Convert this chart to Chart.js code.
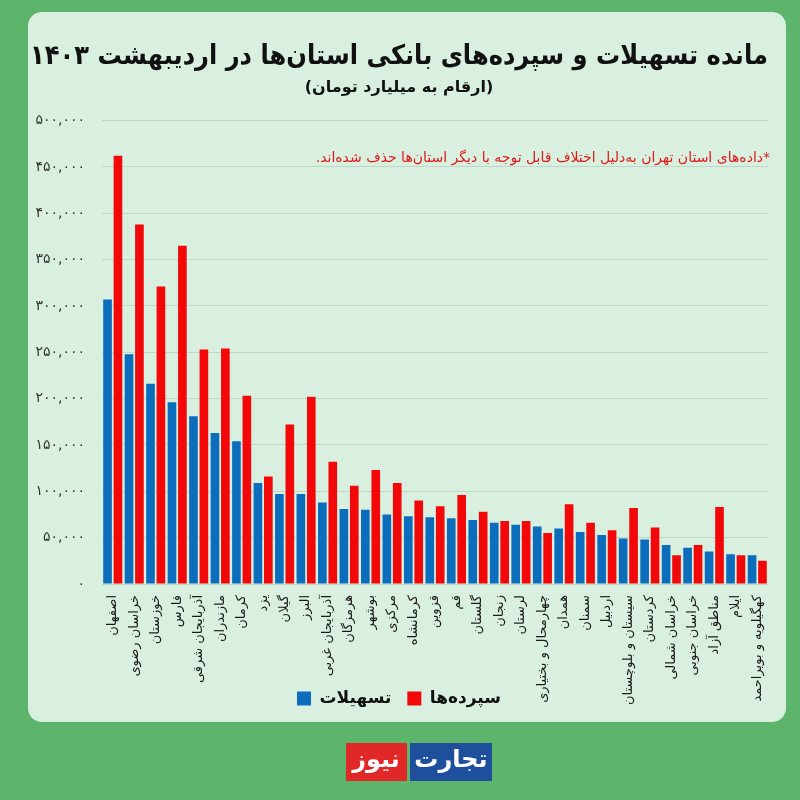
<!DOCTYPE html>
<html><head><meta charset="utf-8">
<script src="https://cdn.jsdelivr.net/npm/chart.js@4.4.1/dist/chart.umd.min.js"></script>
<style>html,body{margin:0;padding:0;background:#5cb56b;}#wrap{width:800px;height:800px;}</style>
</head><body><div id="wrap"><canvas id="c" width="800" height="800"></canvas></div>
<script>
const categories = ['اصفهان','خراسان رضوی','خوزستان','فارس','آذربایجان شرقی','مازندران','کرمان','یزد','گیلان','البرز','آذربایجان غربی','هرمزگان','بوشهر','مرکزی','کرمانشاه','قزوین','قم','گلستان','زنجان','لرستان','چهارمحال و بختیاری','همدان','سمنان','اردبیل','سیستان و بلوچستان','کردستان','خراسان شمالی','خراسان جنوبی','مناطق آزاد','ایلام','کهگیلویه و بویراحمد'];
const loans = [307000, 248000, 216000, 196000, 181000, 163000, 154000, 109000, 97000, 97000, 88000, 81000, 80000, 75000, 73000, 72000, 71000, 69000, 66000, 64000, 62000, 60000, 56000, 53000, 49000, 48000, 42000, 39000, 35000, 32000, 31000];
const deposits = [462000, 388000, 321000, 365000, 253000, 254000, 203000, 116000, 172000, 202000, 132000, 106000, 123000, 109000, 90000, 84000, 96000, 78000, 68000, 68000, 55000, 86000, 66000, 58000, 82000, 61000, 31000, 42000, 83000, 31000, 25000];
const seriesNames = ['تسهیلات', 'سپرده‌ها'];
const titleText = 'مانده تسهیلات و سپرده‌های بانکی استان‌ها در اردیبهشت ۱۴۰۳';
const subtitleText = '(ارقام به میلیارد تومان)';
const noteText = '*داده‌های استان تهران به‌دلیل اختلاف قابل توجه با دیگر استان‌ها حذف شده‌اند.';
const brandWords = ['تجارت', 'نیوز'];
const yMax = 500000, yStep = 50000;

const FONT = '"DejaVu Sans", "Noto Sans", sans-serif';
const faDigits = s => String(s).replace(/\d/g, d => '۰۱۲۳۴۵۶۷۸۹'[d]);

function roundRect(ctx, x, y, w, h, r) {
  ctx.beginPath();
  ctx.moveTo(x + r, y);
  ctx.arcTo(x + w, y, x + w, y + h, r);
  ctx.arcTo(x + w, y + h, x, y + h, r);
  ctx.arcTo(x, y + h, x, y, r);
  ctx.arcTo(x, y, x + w, y, r);
  ctx.closePath();
}

const decor = {
  id: 'decor',
  afterLayout(chart) {
    const l = chart.legend;
    if (l) { l.top -= 30; l.bottom -= 30; }
  },
  beforeDraw(chart) {
    const ctx = chart.ctx;
    ctx.save();
    ctx.fillStyle = '#5cb56b';
    ctx.fillRect(0, 0, chart.width, chart.height);
    ctx.fillStyle = '#d9f0e0';
    roundRect(ctx, 28, 12, 758, 710, 14);
    ctx.fill();
    ctx.restore();
  },
  afterDraw(chart) {
    const ctx = chart.ctx;
    ctx.save();
    ctx.direction = 'rtl';
    ctx.textAlign = 'right';
    ctx.textBaseline = 'middle';
    ctx.fillStyle = '#e01818';
    ctx.font = '14px ' + FONT;
    ctx.fillText(noteText, 770, 158);
    ctx.direction = 'ltr';
    ctx.fillStyle = '#1d4f9c';
    ctx.fillRect(410, 743, 82, 38);
    ctx.fillStyle = '#e02828';
    ctx.fillRect(346, 743, 61, 38);
    ctx.fillStyle = '#ffffff';
    ctx.textAlign = 'center';
    ctx.font = 'bold 24px ' + FONT;
    ctx.fillText(brandWords[0], 451, 761);
    ctx.fillText(brandWords[1], 376, 761);
    ctx.restore();
  }
};

new Chart(document.getElementById('c'), {
  type: 'bar',
  data: {
    labels: categories,
    datasets: [
      { label: seriesNames[0], data: loans, backgroundColor: '#0c6dbd', borderWidth: 0 },
      { label: seriesNames[1], data: deposits, backgroundColor: '#f20808', borderWidth: 0 }
    ]
  },
  options: {
    responsive: false,
    animation: false,
    categoryPercentage: 0.97,
    barPercentage: 0.83,
    layout: { padding: { left: 30, right: 32, top: 41, bottom: 53 } },
    plugins: {
      title: {
        display: true, text: titleText, color: '#111',
        font: { family: FONT, size: 27, weight: 'bold' },
        padding: { top: 0, bottom: 5 }
      },
      subtitle: {
        display: true, text: subtitleText, color: '#111',
        font: { family: FONT, size: 16, weight: 'bold' },
        padding: { top: 0, bottom: 23 }
      },
      legend: {
        position: 'bottom',
        labels: {
          color: '#111', boxWidth: 14, boxHeight: 14, padding: 16,
          font: { family: FONT, size: 17, weight: 'bold' }
        }
      },
      tooltip: { enabled: false }
    },
    scales: {
      x: {
        grid: { display: false },
        border: { display: false },
        ticks: {
          color: '#1a1a1a', minRotation: 90, maxRotation: 90, autoSkip: false, padding: 3,
          font: { family: FONT, size: 13 }
        },
        afterFit: s => { s.height = 120; }
      },
      y: {
        min: 0, max: yMax,
        border: { display: false },
        grid: { color: 'rgba(170,195,178,0.55)', drawTicks: false },
        ticks: {
          stepSize: yStep, padding: 17, color: '#333',
          font: { family: FONT, size: 14 },
          callback: v => faDigits(Number(v).toLocaleString('en-US'))
        },
        afterFit: s => { s.width = 72; }
      }
    }
  },
  plugins: [decor]
});
</script>
</body></html>
